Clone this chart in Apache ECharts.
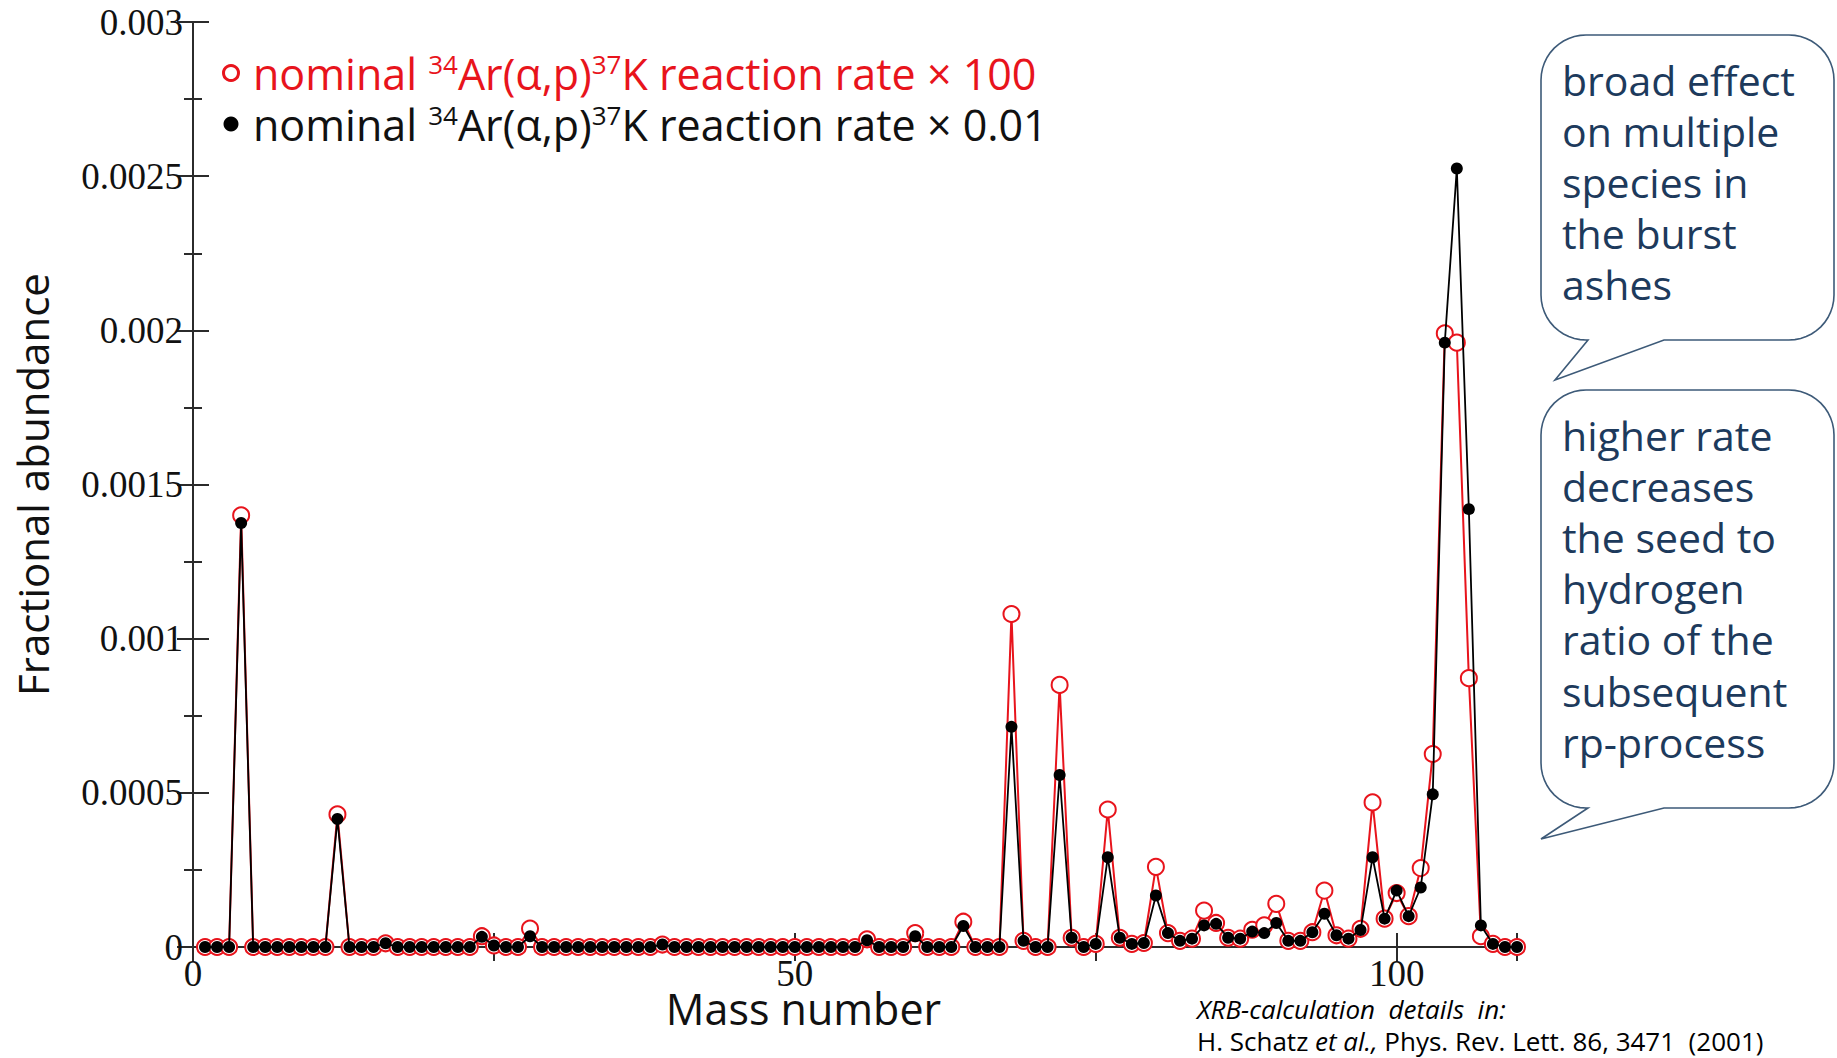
<!DOCTYPE html>
<html>
<head>
<meta charset="utf-8">
<title>Fractional abundance vs mass number</title>
<script src="https://cdn.jsdelivr.net/npm/echarts@6/dist/echarts.min.js"></script>
<style>
  html, body { margin: 0; padding: 0; background: #ffffff; }
  #chart { width: 1837px; height: 1058px; }
</style>
</head>
<body>
<div id="chart"></div>
<script>
// Mass numbers of the burst-ash species
const masses = [
  1, 2, 3, 4, 5, 6, 7, 8, 9, 10,
  11, 12, 13, 14, 15, 16, 17, 18, 19, 20,
  21, 22, 23, 24, 25, 26, 27, 28, 29, 30,
  31, 32, 33, 34, 35, 36, 37, 38, 39, 40,
  41, 42, 43, 44, 45, 46, 47, 48, 49, 50,
  51, 52, 53, 54, 55, 56, 57, 58, 59, 60,
  61, 62, 63, 64, 65, 66, 67, 68, 69, 70,
  71, 72, 73, 74, 75, 76, 77, 78, 79, 80,
  81, 82, 83, 84, 85, 86, 87, 88, 89, 90,
  91, 92, 93, 94, 95, 96, 97, 98, 99, 100,
  101, 102, 103, 104, 105, 106, 107, 108, 109, 110
];

// Fractional abundance with the 34Ar(a,p)37K rate multiplied by 100
const rateTimes100 = [
  0, 0, 0, 0.00140, 0, 0, 0, 0, 0, 0,
  0, 0.00043, 0, 0, 0, 0.000012, 0, 0, 0, 0,
  0, 0, 0, 0.000035, 0.000005, 0, 0, 0.00006, 0, 0,
  0, 0, 0, 0, 0, 0, 0, 0, 0.000008, 0,
  0, 0, 0, 0, 0, 0, 0, 0, 0, 0,
  0, 0, 0, 0, 0, 0.000025, 0, 0, 0, 0.000045,
  0, 0, 0, 0.000082, 0, 0, 0, 0.00108, 0.00002, 0,
  0, 0.00085, 0.00003, 0, 0.00001, 0.000446, 0.00003, 0.00001, 0.000013, 0.00026,
  0.000045, 0.00002, 0.000027, 0.000118, 0.000078, 0.00003, 0.000027, 0.000056, 0.00007, 0.00014,
  0.00002, 0.00002, 0.000048, 0.000183, 0.000038, 0.000027, 0.000059, 0.000469, 0.000092, 0.000175,
  0.0001, 0.000256, 0.000626, 0.00199, 0.00196, 0.000872, 0.000035, 0.00001, 0, 0
];

// Fractional abundance with the 34Ar(a,p)37K rate multiplied by 0.01
const rateTimes001 = [
  0, 0, 0, 0.001375, 0, 0, 0, 0, 0, 0,
  0, 0.000415, 0, 0, 0, 0.000012, 0, 0, 0, 0,
  0, 0, 0, 0.000033, 0.000005, 0, 0, 0.000035, 0, 0,
  0, 0, 0, 0, 0, 0, 0, 0, 0.000008, 0,
  0, 0, 0, 0, 0, 0, 0, 0, 0, 0,
  0, 0, 0, 0, 0, 0.000022, 0, 0, 0, 0.000035,
  0, 0, 0, 0.000068, 0, 0, 0, 0.000714, 0.00002, 0,
  0, 0.000558, 0.00003, 0, 0.00001, 0.000291, 0.00003, 0.00001, 0.000013, 0.000167,
  0.000045, 0.00002, 0.000027, 0.00007, 0.000075, 0.00003, 0.000027, 0.00005, 0.000045, 0.000078,
  0.00002, 0.00002, 0.000048, 0.000108, 0.000038, 0.000027, 0.000055, 0.000291, 0.000092, 0.000183,
  0.0001, 0.000193, 0.000495, 0.00196, 0.002525, 0.00142, 0.00007, 0.00001, 0, 0
];

// Axis tick labels
const xTickValues = [0, 50, 100];
const xTickLabels = ['0', '50', '100'];
const yTickLabels = ['0', '0.0005', '0.001', '0.0015', '0.002', '0.0025', '0.003'];

// Series names (legend text)
const nameHigh = 'nominal 34Ar(α,p)37K reaction rate × 100';
const nameLow = 'nominal 34Ar(α,p)37K reaction rate × 0.01';

// Callout texts
const calloutTop = ['broad effect', 'on multiple', 'species in', 'the burst', 'ashes'];
const calloutBottom = ['higher rate', 'decreases', 'the seed to', 'hydrogen', 'ratio of the', 'subsequent', 'rp-process'];

const RED = '#e8141c';
const AXIS = '#2b2b2b';
const NAVY = '#1d3a5c';

// Outline of a rounded speech bubble whose tail hangs from the lower edge
function bubblePoints(b) {
  const { l, t, r, btm, rad, tailA, tailB, tipX, tipY } = b;
  const pts = [];
  function arc(cx, cy, a0, a1) {
    const steps = 12;
    for (let k = 0; k <= steps; k++) {
      const a = a0 + (a1 - a0) * k / steps;
      pts.push([cx + rad * Math.cos(a), cy + rad * Math.sin(a)]);
    }
  }
  arc(l + rad, t + rad, Math.PI, 1.5 * Math.PI);        // top-left
  arc(r - rad, t + rad, 1.5 * Math.PI, 2 * Math.PI);    // top-right
  arc(r - rad, btm - rad, 0, 0.5 * Math.PI);            // bottom-right
  pts.push([tailB, btm], [tipX, tipY], [tailA, btm]);   // tail
  arc(l + rad, btm - rad, 0.5 * Math.PI, Math.PI);      // bottom-left
  return pts;
}

// Legend text: body tokens plus raised mass-number superscripts
const legendRich = {
  r: { color: RED, fontFamily: 'Open Sans', fontSize: 43, lineHeight: 44 },
  rs: { color: RED, fontFamily: 'Open Sans', fontSize: 26, lineHeight: 26, verticalAlign: 'top' },
  k: { color: '#111', fontFamily: 'Open Sans', fontSize: 43, lineHeight: 44 },
  ks: { color: '#111', fontFamily: 'Open Sans', fontSize: 26, lineHeight: 26, verticalAlign: 'top' }
};

function legendLabel(name) {
  const c = name === nameHigh ? 'r' : 'k';
  const tail = name === nameHigh ? '× 100' : '× 0.01';
  return '{' + c + '|nominal }{' + c + 's|34}{' + c + '|Ar(α,p)}{' + c + 's|37}{' + c + '|K reaction rate ' + tail + '}';
}

const axisLineStyle = { color: AXIS, width: 2 };

const chart = echarts.init(document.getElementById('chart'), null, { renderer: 'svg' });

chart.setOption({
  animation: false,
  backgroundColor: '#ffffff',
  grid: { left: 193, right: 320, top: 22, bottom: 111, containLabel: false },
  legend: {
    orient: 'vertical',
    left: 217,
    top: 46,
    itemWidth: 34,
    itemHeight: 15,
    itemGap: 7.5,
    selectedMode: false,
    formatter: legendLabel,
    textStyle: { rich: legendRich },
    data: [
      { name: nameHigh, icon: 'circle', itemStyle: { color: 'rgba(255,255,255,0)', borderColor: RED, borderWidth: 3 } },
      { name: nameLow, icon: 'circle', itemStyle: { color: '#000', borderWidth: 0 } }
    ]
  },
  xAxis: [
    {
      type: 'value',
      min: 0, max: 110, interval: 25,
      position: 'bottom',
      name: 'Mass number',
      nameLocation: 'middle',
      nameGap: 40,
      nameMoveOverlap: false,
      nameTextStyle: { fontFamily: 'Open Sans', fontSize: 43, lineHeight: 43, color: '#111', padding: [0, 103, 0, 0] },
      axisLine: { show: true, lineStyle: axisLineStyle },
      axisTick: { show: true, inside: true, length: 14, lineStyle: axisLineStyle },
      axisLabel: {
        margin: 8,
        fontFamily: 'Liberation Serif', fontSize: 37, color: '#111',
        formatter: function (v) {
          const i = xTickValues.indexOf(v);
          return i >= 0 ? xTickLabels[i] : '';
        }
      },
      splitLine: { show: false }
    },
    {
      type: 'value',
      min: 0, max: 110, interval: 25,
      position: 'top',
      axisLine: { show: true, lineStyle: axisLineStyle },
      axisTick: { show: true, inside: true, length: 14, lineStyle: axisLineStyle },
      axisLabel: { show: false },
      splitLine: { show: false }
    }
  ],
  yAxis: [
    {
      type: 'value',
      min: 0, max: 0.003, interval: 0.0005,
      position: 'left',
      name: 'Fractional abundance',
      nameLocation: 'middle',
      nameGap: 140,
      nameTextStyle: { fontFamily: 'Open Sans', fontSize: 42, color: '#111' },
      axisLine: { show: true, lineStyle: axisLineStyle },
      axisTick: { show: true, inside: true, length: 16, lineStyle: axisLineStyle },
      minorTick: { show: true, splitNumber: 2, length: 9, lineStyle: axisLineStyle },
      axisLabel: {
        margin: 10,
        fontFamily: 'Liberation Serif', fontSize: 37, color: '#111',
        formatter: function (v, i) { return yTickLabels[i]; }
      },
      splitLine: { show: false },
      minorSplitLine: { show: false }
    },
    {
      type: 'value',
      min: 0, max: 0.003, interval: 0.0005,
      position: 'right',
      axisLine: { show: true, lineStyle: axisLineStyle },
      axisTick: { show: true, inside: true, length: 16, lineStyle: axisLineStyle },
      minorTick: { show: true, splitNumber: 2, length: 9, lineStyle: axisLineStyle },
      axisLabel: { show: false },
      splitLine: { show: false }
    }
  ],
  series: [
    {
      name: nameHigh,
      type: 'line',
      xAxisIndex: 0, yAxisIndex: 0,
      z: 2,
      symbol: 'emptyCircle',
      symbolSize: 16,
      lineStyle: { color: RED, width: 2 },
      itemStyle: { color: RED, borderColor: RED, borderWidth: 3 },
      data: masses.map(function (m, i) { return [m, rateTimes100[i]]; })
    },
    {
      name: nameLow,
      type: 'line',
      xAxisIndex: 0, yAxisIndex: 0,
      z: 3,
      symbol: 'circle',
      symbolSize: 12,
      lineStyle: { color: '#000', width: 1.8 },
      itemStyle: { color: '#000' },
      data: masses.map(function (m, i) { return [m, rateTimes001[i]]; })
    }
  ],
  graphic: [
    {
      type: 'polygon',
      shape: { points: bubblePoints({ l: 1541, t: 35, r: 1834, btm: 340, rad: 45, tailA: 1588, tailB: 1664, tipX: 1555, tipY: 380 }) },
      style: { fill: '#ffffff', stroke: '#3d5a78', lineWidth: 1.6 }
    },
    {
      type: 'text',
      x: 1562, y: 54,
      style: {
        text: calloutTop.join('\n'),
        fontFamily: 'Open Sans', fontSize: 41, lineHeight: 51,
        fill: NAVY, verticalAlign: 'top'
      }
    },
    {
      type: 'polygon',
      shape: { points: bubblePoints({ l: 1541, t: 390, r: 1834, btm: 808, rad: 45, tailA: 1588, tailB: 1664, tipX: 1541, tipY: 839 }) },
      style: { fill: '#ffffff', stroke: '#3d5a78', lineWidth: 1.6 }
    },
    {
      type: 'text',
      x: 1562, y: 409,
      style: {
        text: calloutBottom.join('\n'),
        fontFamily: 'Open Sans', fontSize: 41, lineHeight: 51.2,
        fill: NAVY, verticalAlign: 'top'
      }
    },
    {
      type: 'text',
      x: 1197, y: 993,
      style: {
        text: '{i|XRB-calculation  details  in:}\n{n|H. Schatz }{i|et al.,}{n| Phys. Rev. Lett. 86, 3471  (2001)}',
        verticalAlign: 'top',
        rich: {
          i: { fontFamily: 'Open Sans', fontStyle: 'italic', fontSize: 26, lineHeight: 32, color: '#2b4a6b' },
          n: { fontFamily: 'Open Sans', fontSize: 26, lineHeight: 32, color: '#2b4a6b' }
        }
      }
    }
  ]
});
</script>
</body>
</html>
